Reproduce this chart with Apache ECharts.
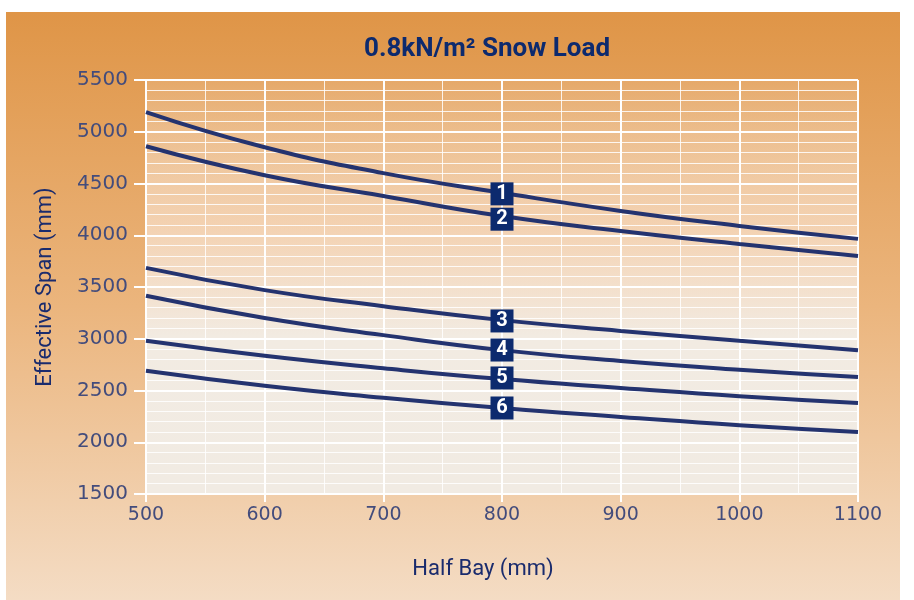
<!DOCTYPE html>
<html>
<head>
<meta charset="utf-8">
<script src="https://cdn.jsdelivr.net/npm/echarts@6/dist/echarts.min.js"></script>
<style>
  html, body { margin: 0; padding: 0; background: #fff; }
  #chart { width: 914px; height: 600px; }
</style>
</head>
<body>
<div id="chart"></div>
<script>
// half bay (mm) on x
const halfBay = [500, 600, 700, 800, 900, 1000, 1100]
// effective span (mm) per curve
const span1 = [5190, 4850, 4600, 4410, 4235, 4090, 3965]
const span2 = [4860, 4580, 4380, 4185, 4040, 3915, 3800]
const span3 = [3685, 3470, 3315, 3180, 3075, 2980, 2890]
const span4 = [3415, 3200, 3035, 2890, 2785, 2700, 2630]
const span5 = [2980, 2835, 2715, 2610, 2525, 2445, 2380]
const span6 = [2690, 2545, 2430, 2330, 2245, 2165, 2100]
const curveNames = ['1', '2', '3', '4', '5', '6']
// where the numbered boxes sit
const labelX = 800
const labelY = [4400, 4155, 3172, 2891, 2621, 2331]

const navy = '#24336f'
const textBlue = '#434c7c'
const condensed = 'Roboto, sans-serif'

const allSpans = [span1, span2, span3, span4, span5, span6]

const chart = echarts.init(document.getElementById('chart'))
chart.setOption({
  animation: false,
  backgroundColor: '#fff',
  graphic: [{
    type: 'rect',
    z: -100,
    shape: { x: 6, y: 12, width: 894, height: 588 },
    style: {
      fill: new echarts.graphic.LinearGradient(0, 0, 0, 1, [
        { offset: 0, color: '#df9547' },
        { offset: 0.5, color: '#ebb57d' },
        { offset: 1, color: '#f4dcc4' }
      ])
    }
  }],
  title: {
    text: '0.8kN/m² Snow Load',
    left: 482,
    top: 31,
    textAlign: 'center',
    textStyle: {
      color: '#0d2a6e',
      fontSize: 26,
      fontWeight: 'bold',
      fontFamily: condensed
    }
  },
  grid: {
    left: 146,
    right: 56,
    top: 80,
    bottom: 106,
    show: true,
    borderWidth: 0,
    backgroundColor: new echarts.graphic.LinearGradient(0, 0, 0, 1, [
      { offset: 0, color: 'rgba(255,255,255,0.12)' },
      { offset: 0.35, color: 'rgba(248,225,205,0.7)' },
      { offset: 0.62, color: '#f2ebe2' },
      { offset: 1, color: '#f1ebe3' }
    ])
  },
  xAxis: {
    type: 'value',
    min: 500,
    max: 1100,
    interval: 100,
    name: 'Half Bay (mm)',
    nameLocation: 'middle',
    nameGap: 64,
    nameTextStyle: {
      color: '#1a2b6d',
      fontSize: 22,
      fontFamily: condensed,
      padding: [0, 38, 0, 0]
    },
    axisLine: { show: true, lineStyle: { color: '#fff', width: 2 } },
    axisTick: { show: true, length: 8, lineStyle: { color: '#fff', width: 2 } },
    axisLabel: {
      color: textBlue, fontSize: 19, fontFamily: 'DejaVu Sans', margin: 12,
      formatter: v => String(v)
    },
    splitLine: { show: true, lineStyle: { color: '#fff', width: 2 } },
    minorTick: { show: false, splitNumber: 2 },
    minorSplitLine: { show: true, lineStyle: { color: 'rgba(255,255,255,0.85)', width: 1 } }
  },
  yAxis: {
    type: 'value',
    min: 1500,
    max: 5500,
    interval: 500,
    name: 'Effective Span (mm)',
    nameLocation: 'middle',
    nameGap: 90,
    nameTextStyle: {
      color: '#1a2b6d',
      fontSize: 22,
      fontFamily: condensed
    },
    axisLine: { show: true, lineStyle: { color: '#fff', width: 2 } },
    axisTick: { show: true, length: 12, lineStyle: { color: '#fff', width: 2 } },
    axisLabel: {
      color: textBlue, fontSize: 20, fontFamily: 'DejaVu Sans', margin: 18,
      formatter: v => String(v)
    },
    splitLine: { show: true, lineStyle: { color: '#fff', width: 2 } },
    minorTick: { show: false, splitNumber: 5 },
    minorSplitLine: { show: true, lineStyle: { color: 'rgba(255,255,255,0.85)', width: 1 } }
  },
  series: allSpans.map((span, i) => ({
    name: curveNames[i],
    type: 'line',
    smooth: true,
    symbol: 'none',
    lineStyle: { color: navy, width: 4 },
    data: halfBay.map((x, k) => [x, span[k]]),
    markPoint: {
      symbol: 'rect',
      symbolSize: [23, 23],
      itemStyle: { color: '#0c2a6e' },
      label: {
        show: true,
        formatter: curveNames[i],
        color: '#fff',
        fontSize: 20,
        fontWeight: 'bold',
        fontFamily: condensed
      },
      data: [{ coord: [labelX, labelY[i]] }]
    }
  }))
})
</script>
</body>
</html>
